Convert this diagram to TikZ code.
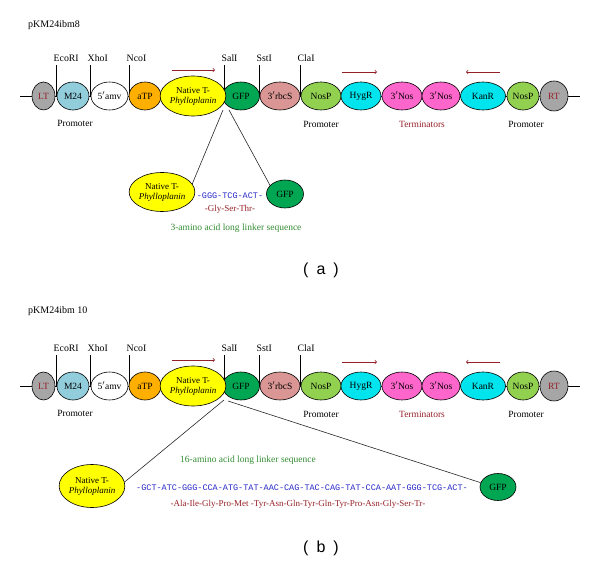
\documentclass[tikz,border=0pt]{standalone}
\usepackage{fontspec}
\setmainfont{Liberation Serif}
\setmonofont{Liberation Mono}
\newfontfamily\capfont{Liberation Sans}
\usetikzlibrary{shapes.geometric}
\definecolor{partgray}{RGB}{166,166,166}
\definecolor{m24blue}{RGB}{146,205,220}
\definecolor{atporange}{RGB}{255,175,0}
\definecolor{natyellow}{RGB}{255,255,0}
\definecolor{gfpgreen}{RGB}{0,166,81}
\definecolor{rbcspink}{RGB}{217,150,148}
\definecolor{nospgreen}{RGB}{146,208,80}
\definecolor{markcyan}{RGB}{0,228,238}
\definecolor{nosmagenta}{RGB}{255,102,204}
\definecolor{labred}{RGB}{150,32,40}
\definecolor{seqblue}{RGB}{40,40,200}
\definecolor{linkgreen}{RGB}{50,140,50}
\begin{document}
\begin{tikzpicture}[x=1pt,y=-1pt,
  part/.style={ellipse,draw=black,line width=0.6pt,inner sep=0pt,align=center,
    font=\fontsize{9.5}{10}\selectfont},
  site/.style={anchor=base west,inner sep=0pt,font=\fontsize{9.8}{10}\selectfont},
  region/.style={inner sep=0pt,font=\fontsize{9.5}{10}\selectfont},
  tick/.style={line width=0.6pt},
  dir/.style={labred,line width=0.7pt,->},
  zoomline/.style={line width=0.6pt,draw=black!85},
  seq/.style={inner sep=0pt,text=seqblue,font=\ttfamily\fontsize{8.5}{10}\selectfont},
  aa/.style={inner sep=0pt,text=labred,font=\fontsize{9}{10}\selectfont},
  linker/.style={inner sep=0pt,text=linkgreen,font=\fontsize{9.5}{10}\selectfont},
  panel/.style={inner sep=0pt,font=\capfont\fontsize{16}{17}\selectfont}]
  \useasboundingbox (0,0) rectangle (600,561);

  % titles
  \node[region,anchor=base west,font=\fontsize{10}{10}\selectfont] (titleA) at (28,28) {pKM24ibm8};
  \node[region,anchor=base west,font=\fontsize{10}{10}\selectfont] (titleB) at (28,314) {pKM24ibm 10};

  % both constructs
  \foreach \r/\yy in {a/0,b/290}{
    \begin{scope}[yshift=-\yy pt]
      %backbone
      \coordinate (bbL\r) at (20,96);
      \coordinate (bbR\r) at (580,96);
      \draw[tick] (bbL\r) -- (bbR\r);
      %sites
      \foreach \nm/\xx in {EcoRI/56,XhoI/90,NcoI/129,SalI/224,SstI/259,ClaI/300}{
        \coordinate (\nm\r) at (\xx,96);
        \node[site] (\nm L\r) at (\xx-2.5,62) {\nm};
        \draw[tick] (\nm\r) -- ++(0,-31);
      }
      %parts
      \foreach \nm/\xx/\ww/\hh/\col/\txt in {
          LT/43.5/23/28/partgray/{\textcolor{labred}{LT}},
          M24/73/32/28/m24blue/M24,
          amv/109.5/37/28/white/{5$'$amv},
          aTP/145/32/28/atporange/aTP,
          GFP/241/37/28/gfpgreen/GFP,
          rbcS/280/40/28/rbcspink/{3$'$rbcS},
          NosP/321/40/28/nospgreen/NosP,
          Hyg/361/40/28/markcyan/HygR,
          NosA/402/40/28/nosmagenta/{3$'$Nos},
          NosB/441/38/28/nosmagenta/{3$'$Nos},
          Kan/483/45/28/markcyan/KanR,
          NosQ/523/32/28/nospgreen/NosP,
          RT/554/28/30/partgray/{\textcolor{labred}{RT}}}{
        \node[part,fill=\col,minimum width=\ww pt,minimum height=\hh pt] (\nm\r) at (\xx,96) {\txt};
      }
      \node[part,fill=natyellow,minimum width=62pt,minimum height=40pt,
        font=\fontsize{9}{10}\selectfont] (NatT\r) at (193,96) {Native T-\\\textit{Phylloplanin}};
      %directions
      \coordinate (dirAs\r) at (172,70);
      \coordinate (dirAe\r) at (215,70);
      \coordinate (dirBs\r) at (342,72);
      \coordinate (dirBe\r) at (377,72);
      \coordinate (dirCs\r) at (500,72);
      \coordinate (dirCe\r) at (466,72);
      \draw[dir] (dirAs\r) -- (dirAe\r);
      \draw[dir] (dirBs\r) -- (dirBe\r);
      \draw[dir] (dirCs\r) -- (dirCe\r);
      %labels
      \node[region] (promA\r) at (75,123) {Promoter};
      \node[region] (promB\r) at (321,124) {Promoter};
      \node[region,text=labred] (term\r) at (422,124) {Terminators};
      \node[region] (promC\r) at (526,124) {Promoter};
    \end{scope}
  }

  % inset a
  \coordinate (cutLa) at (223,110);
  \coordinate (cutRa) at (229,110);
  \node[part,fill=natyellow,minimum width=65pt,minimum height=39pt,
    font=\fontsize{9}{10}\selectfont] (insTa) at (162,192) {Native T-\\\textit{Phylloplanin}};
  \node[part,fill=gfpgreen,minimum width=37pt,minimum height=28pt] (insGa) at (285,194) {GFP};
  \draw[zoomline] (cutLa) -- (insTa.15);
  \draw[zoomline] (cutRa) -- (insGa.150);
  \node[seq] (dnaA) at (230,196) {-GGG-TCG-ACT-};
  \node[aa] (pepA) at (230,209) {-Gly-Ser-Thr-};
  \node[linker] (lnkA) at (236,228) {3-amino acid long linker sequence};
  \node[panel] (capA) at (321,270) {(\,\,\,a\,\,\,)};

  % inset b
  \coordinate (cutLb) at (224,400);
  \coordinate (cutRb) at (228,401);
  \node[part,fill=natyellow,minimum width=63pt,minimum height=43pt,
    font=\fontsize{9}{10}\selectfont] (insTb) at (92,486) {Native T-\\\textit{Phylloplanin}};
  \node[part,fill=gfpgreen,minimum width=36pt,minimum height=27pt] (insGb) at (498,487) {GFP};
  \draw[zoomline] (cutLb) -- (insTb.7);
  \draw[zoomline] (cutRb) -- (insGb.166);
  \node[linker] (lnkB) at (248,460) {16-amino acid long linker sequence};
  \node[seq] (dnaB) at (302,488) {-GCT-ATC-GGG-CCA-ATG-TAT-AAC-CAG-TAC-CAG-TAT-CCA-AAT-GGG-TCG-ACT-};
  \node[aa] (pepB) at (298,504) {-Ala-Ile-Gly-Pro-Met -Tyr-Asn-Gln-Tyr-Gln-Tyr-Pro-Asn-Gly-Ser-Tr-};
  \node[panel] (capB) at (321,548) {(\,\,\,b\,\,\,)};
\end{tikzpicture}
\end{document}
